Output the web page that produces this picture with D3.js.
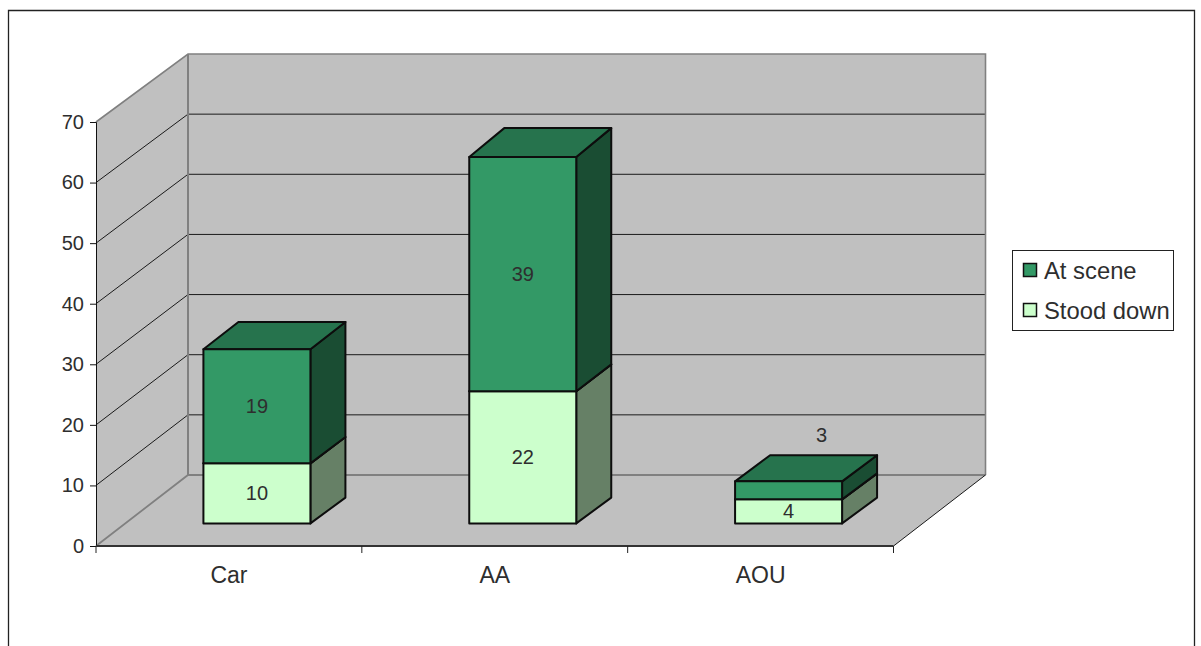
<!DOCTYPE html>
<html>
<head>
<meta charset="utf-8">
<style>
html, body { margin: 0; padding: 0; background: #fff; overflow: hidden; }
svg { display: block; }
text { font-family: "Liberation Sans", Arial, sans-serif; fill: #2e2e2e; }
</style>
<script src="https://cdn.jsdelivr.net/npm/d3@7"></script>
</head>
<body>
<svg id="chart" width="1201" height="646"></svg>
<script>
// Incident counts by category, stacked bottom to top
const categories = ["Car", "AA", "AOU"];
const stoodDown = [10, 22, 4];
const atScene = [19, 39, 3];
const yTicks = [0, 10, 20, 30, 40, 50, 60, 70];
const seriesNames = ["At scene", "Stood down"];

const svg = d3.select("#chart");

// Front edge of the floor and back wall of the 3D box
const frontX = [96, 893.5];
const wallDx = 92;
const yFront = d3.scaleLinear().domain([0, 70]).range([546, 122]);
const yBack = d3.scaleLinear().domain([0, 70]).range([475, 54]);
const xBand = d3.scaleBand().domain(categories).range(frontX);

// Bars stand part-way into the box, so they use scales of their own
const barShift = 28;
const barWidth = 107;
const barDx = 35;
const yBarFront = d3.scaleLinear().domain([0, 70]).range([523.4, 523.4 - 420.5]);
const yBarBack = d3.scaleLinear().domain([0, 70]).range([497.6, 497.6 - 424]);

const wallGrey = "#c0c0c0";
const edgeGrey = "#808080";
const pts = a => a.map(p => p.join(",")).join(" ");

// Outer frame, which runs off the bottom of the page
svg.append("path")
  .attr("d", "M8.5,646V10.5H1194.5V646")
  .attr("fill", "none").attr("stroke", "#222").attr("stroke-width", 1.3);

// Side wall, back wall and floor
const left = frontX[0], right = frontX[1], backL = left + wallDx, backR = right + wallDx;
svg.append("polygon")
  .attr("points", pts([[left, yFront(0)], [backL, yBack(0)], [backL, yBack(70)], [left, yFront(70)]]))
  .attr("fill", wallGrey);
svg.append("rect")
  .attr("x", backL).attr("y", yBack(70))
  .attr("width", backR - backL).attr("height", yBack(0) - yBack(70))
  .attr("fill", wallGrey);
svg.append("polygon")
  .attr("points", pts([[left, yFront(0)], [right, yFront(0)], [backR, yBack(0)], [backL, yBack(0)]]))
  .attr("fill", wallGrey);

// Gridlines wrap from the side wall onto the back wall
svg.append("g").selectAll("polyline")
  .data(yTicks.filter(t => t > 0 && t < 70))
  .join("polyline")
  .attr("points", t => pts([[left, yFront(t)], [backL, yBack(t)], [backR, yBack(t)]]))
  .attr("fill", "none").attr("stroke", "#1a1a1a").attr("stroke-width", 1);

// Grey edges of the box
svg.append("polyline")
  .attr("points", pts([[left, yFront(70)], [backL, yBack(70)], [backR, yBack(70)], [backR, yBack(0)]]))
  .attr("fill", "none").attr("stroke", edgeGrey).attr("stroke-width", 1.6);
svg.append("line")
  .attr("x1", backL).attr("x2", backL).attr("y1", yBack(70)).attr("y2", yBack(0))
  .attr("stroke", edgeGrey).attr("stroke-width", 2);
svg.append("polyline")
  .attr("points", pts([[left, yFront(0)], [backL, yBack(0)], [backR, yBack(0)]]))
  .attr("fill", "none").attr("stroke", edgeGrey).attr("stroke-width", 1.8);
svg.append("line")
  .attr("x1", right).attr("y1", yFront(0)).attr("x2", backR).attr("y2", yBack(0))
  .attr("stroke", "#1a1a1a").attr("stroke-width", 1);

// Value axis on the front edge of the side wall
const yAxis = d3.axisLeft(yFront).tickValues(yTicks).tickSize(6).tickPadding(6);
const yG = svg.append("g").attr("transform", `translate(${left},0)`).call(yAxis);
yG.select(".domain").attr("stroke", "#111").attr("stroke-width", 1);
yG.selectAll(".tick line").attr("stroke", "#111");
yG.selectAll("text").attr("font-family", null).attr("font-size", 20);

// Category axis: ticks sit at band boundaries
const xEdges = d3.range(categories.length + 1).map(i => left + i * xBand.step());
const xG = svg.append("g");
xG.append("line")
  .attr("x1", left).attr("x2", right).attr("y1", yFront(0)).attr("y2", yFront(0))
  .attr("stroke", "#333").attr("stroke-width", 2);
xG.selectAll("line.tick").data(xEdges).join("line").attr("class", "tick")
  .attr("x1", d => d).attr("x2", d => d)
  .attr("y1", yFront(0)).attr("y2", yFront(0) + 7)
  .attr("stroke", "#222").attr("stroke-width", 1);
xG.selectAll("text").data(categories).join("text")
  .attr("x", d => xBand(d) + xBand.step() / 2)
  .attr("y", 583)
  .attr("text-anchor", "middle")
  .attr("font-size", 23)
  .text(d => d);

// Stack the two series and draw each segment as a small cuboid
const seriesStyles = [
  { values: stoodDown, front: "#ccffcc", top: "#a3cca3", side: "#668066" },
  { values: atScene, front: "#339966", top: "#26734d", side: "#1a4d33" }
];
const barsG = svg.append("g");
const labelsG = svg.append("g");

categories.forEach((cat, i) => {
  const x0 = xBand(cat) + (xBand.step() - barWidth) / 2 + barShift;
  const x1 = x0 + barWidth;
  let base = 0;
  seriesStyles.forEach(s => {
    const v = s.values[i];
    const top = base + v;
    const g = barsG.append("g")
      .attr("stroke", "#0d0d0d").attr("stroke-width", 2).attr("stroke-linejoin", "round");
    g.append("polygon")
      .attr("points", pts([[x1, yBarFront(base)], [x1 + barDx, yBarBack(base)], [x1 + barDx, yBarBack(top)], [x1, yBarFront(top)]]))
      .attr("fill", s.side);
    g.append("polygon")
      .attr("points", pts([[x0, yBarFront(top)], [x1, yBarFront(top)], [x1 + barDx, yBarBack(top)], [x0 + barDx, yBarBack(top)]]))
      .attr("fill", s.top);
    g.append("rect")
      .attr("x", x0).attr("y", yBarFront(top))
      .attr("width", barWidth).attr("height", yBarFront(base) - yBarFront(top))
      .attr("fill", s.front);

    // A segment too thin to hold its label gets it above and behind the bar
    const thin = v < 4;
    labelsG.append("text")
      .attr("x", (x0 + x1) / 2 + (thin ? 33 : 0))
      .attr("y", thin ? yBarBack(top) - 20 : (yBarFront(base) + yBarFront(top)) / 2 - 0.5)
      .attr("dy", "0.36em")
      .attr("text-anchor", "middle")
      .attr("font-size", 20)
      .text(v);
    base = top;
  });
});

// Legend
const legend = svg.append("g");
legend.append("rect")
  .attr("x", 1012.5).attr("y", 250.5).attr("width", 161).attr("height", 80)
  .attr("fill", "#fff").attr("stroke", "#222").attr("stroke-width", 1);
const legendRow = d3.scalePoint().domain(seriesNames).range([270, 310]);
const legendFill = d3.scaleOrdinal().domain(seriesNames).range([seriesStyles[1].front, seriesStyles[0].front]);
const rows = legend.selectAll("g").data(seriesNames).join("g")
  .attr("transform", d => `translate(0,${legendRow(d)})`);
rows.append("rect")
  .attr("x", 1023.5).attr("y", -6.5).attr("width", 13).attr("height", 13)
  .attr("fill", d => legendFill(d)).attr("stroke", "#111").attr("stroke-width", 1.5);
rows.append("text")
  .attr("x", 1044).attr("dy", "0.36em")
  .attr("font-size", 23.8)
  .text(d => d);
</script>
</body>
</html>
